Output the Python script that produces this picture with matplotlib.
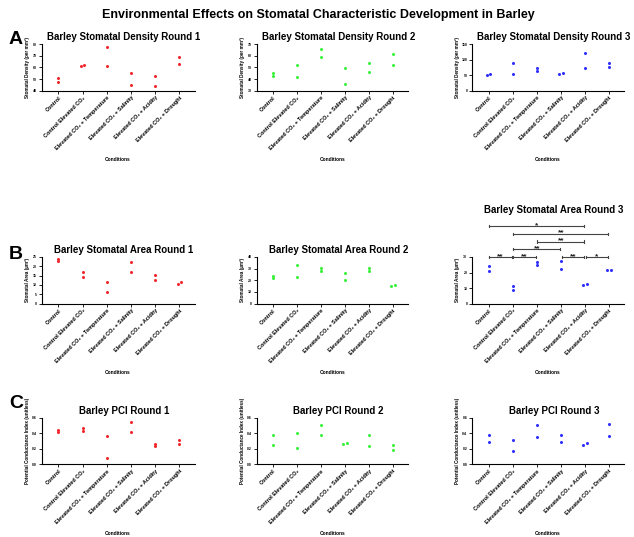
import matplotlib
matplotlib.use("Agg")
import matplotlib.pyplot as plt
import numpy as np

plt.rcParams['font.family'] = ['Liberation Sans', 'DejaVu Sans']
plt.rcParams['font.weight'] = 'bold'

# condition names on the x axis
conditions = ["Control", "Control Elevated CO₂", "Elevated CO₂ + Temperature",
              "Elevated CO₂ + Salinity", "Elevated CO₂ + Acidity", "Elevated CO₂ + Drought"]

# stomatal density (per mm2), two replicates per condition
density_r1 = [[50.6, 47.8], [61, 62], [77.4, 61], [55.3, 44.9], [53, 44], [69, 63.3]]
density_r2 = [[45.4, 42.8], [52, 41.9], [66.2, 59], [49.4, 35.8], [54, 46], [62, 52]]
density_r3 = [[50, 53], [90, 55], [72, 65], [55, 58], [121, 72], [91, 78]]

# stomatal area (um2)
area_r1 = [[22.7, 23.75], [16.8, 14.5], [11.4, 6.4], [22.1, 17.1], [15.2, 12.5], [10.7, 11.4]]
area_r2 = [[23.6, 22.2], [33.4, 23.0], [30.8, 27.9], [26.5, 20.4], [30.8, 27.9], [15.3, 16.1]]
area_r3 = [[24, 21], [11.3, 8.6], [26.5, 25], [27.6, 22.5], [11.8, 12.8], [21.4, 21.5]]

# potential conductance index
pci_r1 = [[0.437, 0.411], [0.467, 0.428], [0.368, 0.077], [0.544, 0.415], [0.266, 0.24], [0.313, 0.261]]
pci_r2 = [[0.379, 0.247], [0.4, 0.213], [0.506, 0.374], [0.26, 0.277], [0.379, 0.23], [0.251, 0.183]]
pci_r3 = [[0.378, 0.292], [0.318, 0.167], [0.506, 0.356], [0.373, 0.288], [0.253, 0.27], [0.519, 0.36]]

# significance brackets for area round 3: (from, to, height, stars)
area_r3_sig = [(0, 1, 30, "**"), (1, 2, 30, "**"), (3, 4, 30, "**"), (4, 5, 30, "*"),
               (1, 3, 35, "**"), (2, 4, 40, "**"), (1, 5, 45, "**"), (0, 4, 50, "*")]

red = "#f0282d"
green = "#3af03a"
blue = "#2f2fff"

fig = plt.figure(figsize=(6.34, 5.37), dpi=100)
W, H = 634, 537

lefts = [41.5, 256.5, 471.7]
rights = [194.5, 408, 624]
tops = [44.3, 257, 417.7]
bottoms = [90.7, 303.5, 464.3]


def make_ax(r, c):
    return fig.add_axes([lefts[c] / W, 1 - bottoms[r] / H,
                         (rights[c] - lefts[c]) / W, (bottoms[r] - tops[r]) / H])


def dot_plot(ax, data, color, title, ylabel, yticks, fmt="{:g}", title_pad=3):
    lo, hi = yticks[0], yticks[-1]
    for i, vals in enumerate(data):
        vals = sorted(vals)
        # spread points sideways when they would overlap
        if abs(vals[1] - vals[0]) / (hi - lo) < 0.035:
            xs = [i - 0.075, i + 0.075]
        else:
            xs = [i, i]
        ax.plot(xs, vals, "o", ms=2.2, color=color, mec="none")
    ax.set_xlim(-0.7, 5.62)
    ax.set_ylim(lo, hi)
    ax.set_yticks(yticks)
    ax.set_yticklabels([fmt.format(t) for t in yticks], fontsize=2.5)
    ax.set_xticks(range(len(conditions)))
    ax.set_xticklabels(conditions, rotation=45, ha="right", rotation_mode="anchor", fontsize=4)
    ax.tick_params(axis="both", length=2, width=0.6, pad=1.2)
    for s in ["top", "right"]:
        ax.spines[s].set_visible(False)
    for s in ["left", "bottom"]:
        ax.spines[s].set_linewidth(0.8)
    ax.set_title(title, fontsize=7, fontweight="bold", x=0.54, pad=title_pad)
    ax.set_ylabel(ylabel, fontsize=3.3, fontweight="bold")
    ax.yaxis.set_label_coords(-0.078, 0.5)
    ax.set_xlabel("Conditions", fontsize=3.5, fontweight="bold")
    ax.xaxis.set_label_coords(0.5, -1.43)


dens_lab = "Stomatal Density (per mm²)"
area_lab = "Stomatal Area (µm²)"
pci_lab = "Potential Conductance Index (unitless)"

ax = make_ax(0, 0)
dot_plot(ax, density_r1, red, "Barley Stomatal Density Round 1", dens_lab, [40, 50, 60, 70, 80])
ax = make_ax(0, 1)
dot_plot(ax, density_r2, green, "Barley Stomatal Density Round 2", dens_lab, [30, 40, 50, 60, 70])
ax = make_ax(0, 2)
dot_plot(ax, density_r3, blue, "Barley Stomatal Density Round 3", dens_lab, [0, 50, 100, 150])

ax = make_ax(1, 0)
dot_plot(ax, area_r1, red, "Barley Stomatal Area Round 1", area_lab, [0, 5, 10, 15, 20, 25])
ax = make_ax(1, 1)
dot_plot(ax, area_r2, green, "Barley Stomatal Area Round 2", area_lab, [0, 10, 20, 30, 40])
ax = make_ax(1, 2)
dot_plot(ax, area_r3, blue, "Barley Stomatal Area Round 3", area_lab, [0, 10, 20, 30], title_pad=32)
for a, b, h, stars in area_r3_sig:
    x0, x1 = a + 0.03, b - 0.03
    ax.plot([x0, x1], [h, h], color="#444444", lw=0.8, clip_on=False)
    ax.plot([x0, x0], [h - 0.7, h + 0.7], color="#444444", lw=0.8, clip_on=False)
    ax.plot([x1, x1], [h - 0.7, h + 0.7], color="#444444", lw=0.8, clip_on=False)
    ax.text((a + b) / 2, h - 0.6, stars, ha="center", va="baseline", fontsize=6,
            fontweight="bold", color="#222222", clip_on=False)

ax = make_ax(2, 0)
dot_plot(ax, pci_r1, red, "Barley PCI Round 1", pci_lab, [0, 0.2, 0.4, 0.6], fmt="{:.1f}")
ax = make_ax(2, 1)
dot_plot(ax, pci_r2, green, "Barley PCI Round 2", pci_lab, [0, 0.2, 0.4, 0.6], fmt="{:.1f}")
ax = make_ax(2, 2)
dot_plot(ax, pci_r3, blue, "Barley PCI Round 3", pci_lab, [0, 0.2, 0.4, 0.6], fmt="{:.1f}")

# panel letters and the main title
for letter, y in [("A", 40), ("B", 254), ("C", 403)]:
    fig.text(16 / W, 1 - y / H, letter, fontsize=14, fontweight="bold", ha="center", va="center")
fig.text(318 / W, 1 - 15 / H, "Environmental Effects on Stomatal Characteristic Development in Barley",
         fontsize=9, fontweight="bold", ha="center", va="center")

fig.savefig("out.png", dpi=100)
